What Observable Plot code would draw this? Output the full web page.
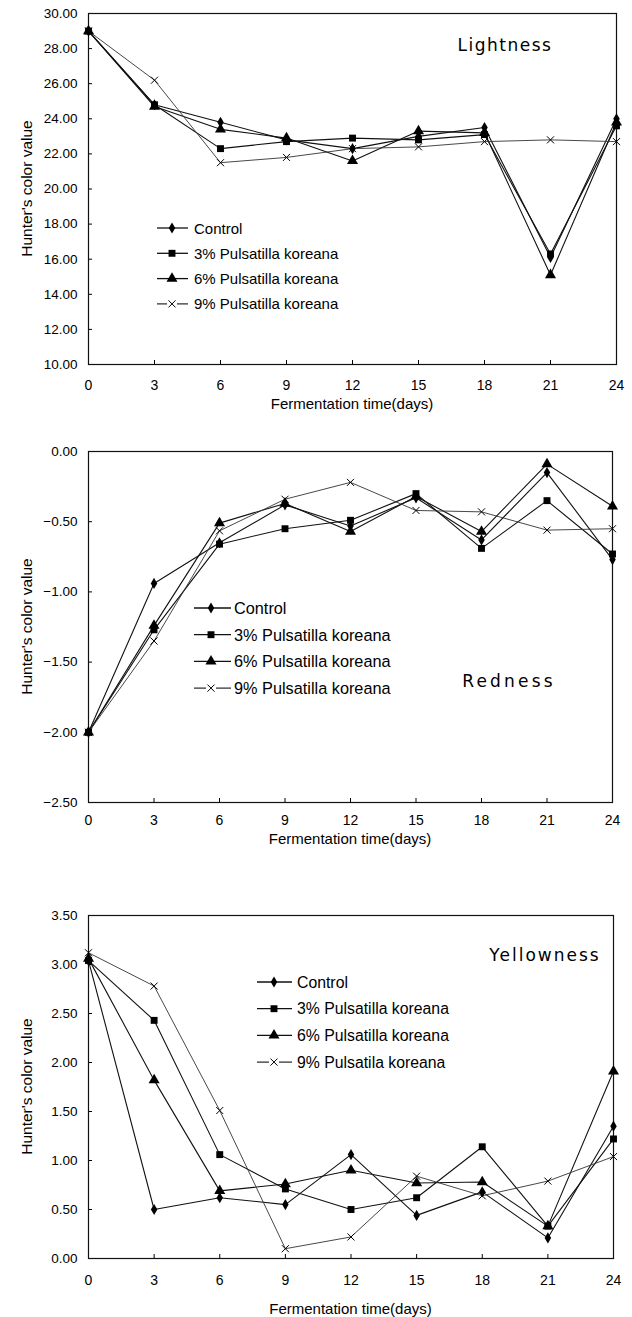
<!DOCTYPE html>
<html><head><meta charset="utf-8">
<script src="https://cdn.jsdelivr.net/npm/d3@7"></script>
<script src="https://cdn.jsdelivr.net/npm/@observablehq/plot@0.6"></script>
<style>
body{margin:0;background:#fff;}
#root{position:relative;width:632px;height:1317px;background:#fff;}
#root svg{position:absolute;left:0;}
</style></head><body><div id="root"></div>
<script>
// ---------- data ----------
const days = [0, 3, 6, 9, 12, 15, 18, 21, 24];
const seriesNames = ["Control", "3% Pulsatilla koreana", "6% Pulsatilla koreana", "9% Pulsatilla koreana"];
const seriesNames3 = ["Control", "3% Pulsatilla koreana", "6% Pulsatilla koreana", "9% Pulsatila koreana"];
const seriesSymbols = ["diamond", "square", "triangle", "times"];

const lightControl = [29.0, 24.8, 23.8, 22.8, 22.3, 23.0, 23.5, 16.1, 24.0];
const light3 = [29.0, 24.8, 22.3, 22.7, 22.9, 22.8, 23.1, 16.3, 23.6];
const light6 = [29.0, 24.7, 23.4, 22.9, 21.6, 23.3, 23.2, 15.1, 23.8];
const light9 = [29.0, 26.2, 21.5, 21.8, 22.3, 22.4, 22.7, 22.8, 22.7];

const redControl = [-2.0, -0.94, -0.65, -0.38, -0.53, -0.33, -0.63, -0.15, -0.77];
const red3 = [-2.0, -1.27, -0.66, -0.55, -0.49, -0.30, -0.69, -0.35, -0.73];
const red6 = [-2.0, -1.24, -0.51, -0.37, -0.57, -0.32, -0.57, -0.09, -0.39];
const red9 = [-2.0, -1.35, -0.565, -0.34, -0.22, -0.42, -0.43, -0.56, -0.55];

const yelControl = [3.04, 0.50, 0.62, 0.55, 1.06, 0.44, 0.68, 0.21, 1.35];
const yel3 = [3.04, 2.43, 1.06, 0.71, 0.50, 0.62, 1.14, 0.33, 1.22];
const yel6 = [3.06, 1.82, 0.69, 0.76, 0.90, 0.77, 0.78, 0.33, 1.91];
const yel9 = [3.12, 2.78, 1.51, 0.10, 0.22, 0.84, 0.64, 0.79, 1.04];

const lightTicks = [10, 12, 14, 16, 18, 20, 22, 24, 26, 28, 30];
const redTicks = [-2.5, -2.0, -1.5, -1.0, -0.5, 0];
const yelTicks = [0, 0.5, 1.0, 1.5, 2.0, 2.5, 3.0, 3.5];

const titles = ["Lightness", "Redness", "Yellowness"];
const yTitle = "Hunter's color value";
const xTitle = "Fermentation time(days)";

// ---------- drawing ----------
const root = document.getElementById("root");
const symbolR = {diamond: 3.4, square: 3.9, triangle: 4.1, times: 3.3};
const d3Sym = {diamond: d3.symbolDiamond, square: d3.symbolSquare, triangle: d3.symbolTriangle, times: d3.symbolTimes};
const fmt = d => (d < 0 ? "\u2212" : "") + Math.abs(d).toFixed(2);

function panel(cfg) {
  const data = cfg.series.flatMap((vals, s) => vals.map((v, i) => ({day: days[i], value: v, s})));
  const marks = [
    Plot.axisX({ticks: days, tickSize: -4, tickFormat: () => "", label: null, strokeWidth: 1}),
    Plot.axisX({ticks: days, tickSize: 0, tickPadding: cfg.xPad, label: null, fontSize: 14, fontFamily: "Liberation Sans"}),
    Plot.axisY({ticks: cfg.ticks, tickSize: -4, tickFormat: () => "", label: null, strokeWidth: 1}),
    Plot.axisY({ticks: cfg.ticks, tickSize: 0, tickPadding: 11, tickFormat: fmt, label: null, fontSize: 13.5, fontFamily: "Liberation Sans"}),
    Plot.frame({stroke: "#111", strokeWidth: 1.2})
  ];
  cfg.series.forEach((vals, s) => {
    marks.push(Plot.line(data.filter(e => e.s === s), {x: "day", y: "value", stroke: s === 3 ? "#333" : "#111", strokeWidth: s === 3 ? 0.9 : 1.1}));
  });
  cfg.series.forEach((vals, s) => {
    const sym = seriesSymbols[s];
    const isStroke = sym === "times";
    marks.push(Plot.dot(data.filter(e => e.s === s), {
      x: "day", y: "value", symbol: sym, r: symbolR[sym],
      fill: isStroke ? "none" : "#000", stroke: isStroke ? "#000" : "none", strokeWidth: isStroke ? 1 : 0
    }));
  });
  const svg = Plot.plot({
    width: 632, height: cfg.height,
    marginLeft: 88, marginRight: cfg.mRight, marginTop: cfg.mTop, marginBottom: cfg.mBottom,
    x: {domain: [0, 24]},
    y: {domain: cfg.domain},
    style: {fontFamily: "Liberation Sans", color: "#000", background: "#fff"},
    marks
  });
  svg.style.top = cfg.top + "px";
  const g = d3.select(svg);
  const frameTop = cfg.mTop, frameBottom = cfg.height - cfg.mBottom;
  // y title
  g.append("text")
    .attr("transform", `translate(26,${(frameTop + frameBottom) / 2}) rotate(-90)`)
    .attr("text-anchor", "middle").attr("dominant-baseline", "central")
    .attr("font-family", "Liberation Sans").attr("font-size", 15.5).attr("fill", "#000")
    .text(yTitle);
  // x title
  g.append("text")
    .attr("x", (88 + 632 - cfg.mRight) / 2).attr("y", cfg.xTitleY - cfg.top)
    .attr("text-anchor", "middle").attr("dominant-baseline", "central")
    .attr("font-family", "Liberation Sans").attr("font-size", 15).attr("fill", "#000")
    .text(xTitle);
  // panel title
  g.append("text")
    .attr("x", cfg.titleX).attr("y", cfg.titleY - cfg.top)
    .attr("text-anchor", "middle").attr("dominant-baseline", "central")
    .attr("font-family", "DejaVu Sans").attr("font-size", 17).attr("letter-spacing", cfg.titleSpacing)
    .attr("fill", "#000")
    .text(cfg.title);
  // legend
  const L = cfg.legend;
  cfg.names.forEach((name, i) => {
    const y = L.y0 + L.dy * i - cfg.top;
    const sym = seriesSymbols[i];
    if (sym === "times") {
      g.append("line").attr("x1", L.x1).attr("x2", L.mx - 5).attr("y1", y).attr("y2", y).attr("stroke", "#111").attr("stroke-width", 1.1);
      g.append("line").attr("x1", L.mx + 5).attr("x2", L.x2).attr("y1", y).attr("y2", y).attr("stroke", "#111").attr("stroke-width", 1.1);
    } else {
      g.append("line").attr("x1", L.x1).attr("x2", L.x2).attr("y1", y).attr("y2", y).attr("stroke", "#111").attr("stroke-width", 1.3);
    }
    const r = symbolR[sym];
    g.append("path")
      .attr("d", d3.symbol(d3Sym[sym], Math.PI * r * r)())
      .attr("transform", `translate(${L.mx},${y})`)
      .attr("fill", sym === "times" ? "none" : "#000")
      .attr("stroke", sym === "times" ? "#000" : "none");
    g.append("text").attr("x", L.tx).attr("y", y)
      .attr("text-anchor", "start").attr("dominant-baseline", "central")
      .attr("font-family", "Liberation Sans").attr("font-size", L.fs).attr("fill", "#000")
      .text(name);
  });
  root.appendChild(svg);
}

panel({
  top: 0, height: 420, mTop: 13, mBottom: 56, mRight: 16, xPad: 16,
  domain: [10, 30], ticks: lightTicks, series: [lightControl, light3, light6, light9],
  names: seriesNames, title: titles[0], titleX: 505, titleY: 45, titleSpacing: 1.5,
  xTitleY: 403,
  legend: {y0: 228, dy: 25.3, x1: 157, x2: 188, mx: 172, tx: 194, fs: 15}
});
panel({
  top: 420, height: 440, mTop: 31, mBottom: 58, mRight: 20, xPad: 13,
  domain: [-2.5, 0], ticks: redTicks, series: [redControl, red3, red6, red9],
  names: seriesNames, title: titles[1], titleX: 509, titleY: 681, titleSpacing: 3.2,
  xTitleY: 838,
  legend: {y0: 608, dy: 26.7, x1: 194, x2: 231, mx: 211, tx: 234, fs: 16.3}
});
panel({
  top: 860, height: 457, mTop: 55, mBottom: 59, mRight: 19, xPad: 17,
  domain: [0, 3.5], ticks: yelTicks, series: [yelControl, yel3, yel6, yel9],
  names: seriesNames3, title: titles[2], titleX: 545, titleY: 955, titleSpacing: 2,
  xTitleY: 1308,
  legend: {y0: 982, dy: 26.7, x1: 257, x2: 292, mx: 274, tx: 297, fs: 15.8}
});
</script></body></html>
